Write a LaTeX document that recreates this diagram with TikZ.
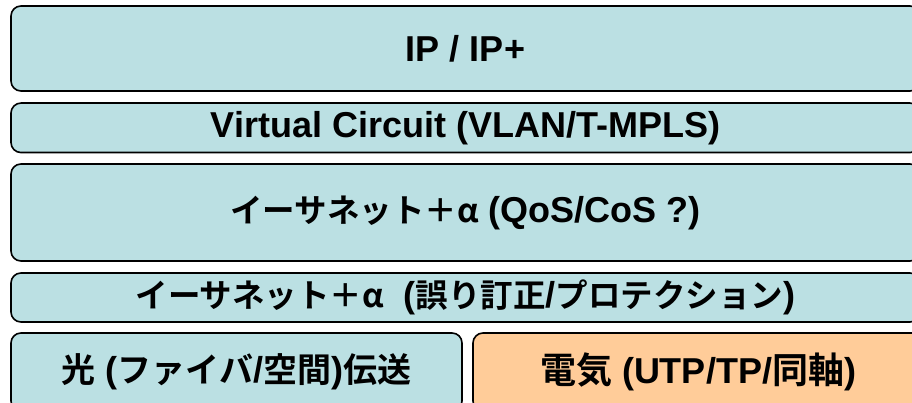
\documentclass[tikz,border=0pt]{standalone}
\usepackage{fontspec}
\setmainfont{Liberation Sans}
\newfontfamily\jp{Noto Sans CJK JP}[BoldFont={Noto Sans CJK JP Bold}]
\newcommand\jpm[1]{{\jp\fontsize{32.5}{36}\selectfont #1}}
\newcommand\jpl[1]{{\jp\fontsize{34}{38}\selectfont #1}}
\newcommand\jpx[1]{{\jp\fontsize{36}{40}\selectfont #1}}
\usetikzlibrary{positioning}

\definecolor{layerblue}{HTML}{BBE0E3}
\definecolor{layerorange}{HTML}{FFCC99}

\tikzset{
  layer/.style={draw=black, line width=1.6pt, rounded corners=10pt,
    fill=layerblue, font=\bfseries\fontsize{36}{40}\selectfont},
  wire/.style={layer, fill=layerorange}
}

\begin{document}
\begin{tikzpicture}[x=1pt, y=-1pt]

	\useasboundingbox (0,0) rectangle (912,403);
	\clip (0,0) rectangle (912,403);

	% layers
	\node[layer, minimum width=909pt, minimum height=85pt]   (ip) at (465.5,48.5) {IP / IP+};
	\node[layer, minimum width=909pt, minimum height=49.5pt] (vc) at (465.5,127.8) {Virtual Circuit (VLAN/T-MPLS)};
	\node[layer, minimum width=909pt, minimum height=97pt]   (qos) at (465.5,212.5) {\jpm{イーサネット＋α} (QoS/CoS ?)};
	\node[layer, minimum width=909pt, minimum height=49pt]   (fec) at (465.5,297.5) {\jpm{イーサネット＋α}\ \ (\jpm{誤り訂正}/\jpm{プロテクション})};

	% physical
	\node[layer, minimum width=451pt, minimum height=78pt]   (optic) at (236.5,372) {\jpl{光} (\jpl{ファイバ}/\jpl{空間})\jpl{伝送}};
	\node[wire,  minimum width=450pt, minimum height=78pt]   (elec) at (698,372) {\jpx{電気} (UTP/TP/\jpx{同軸})};

\end{tikzpicture}
\end{document}
